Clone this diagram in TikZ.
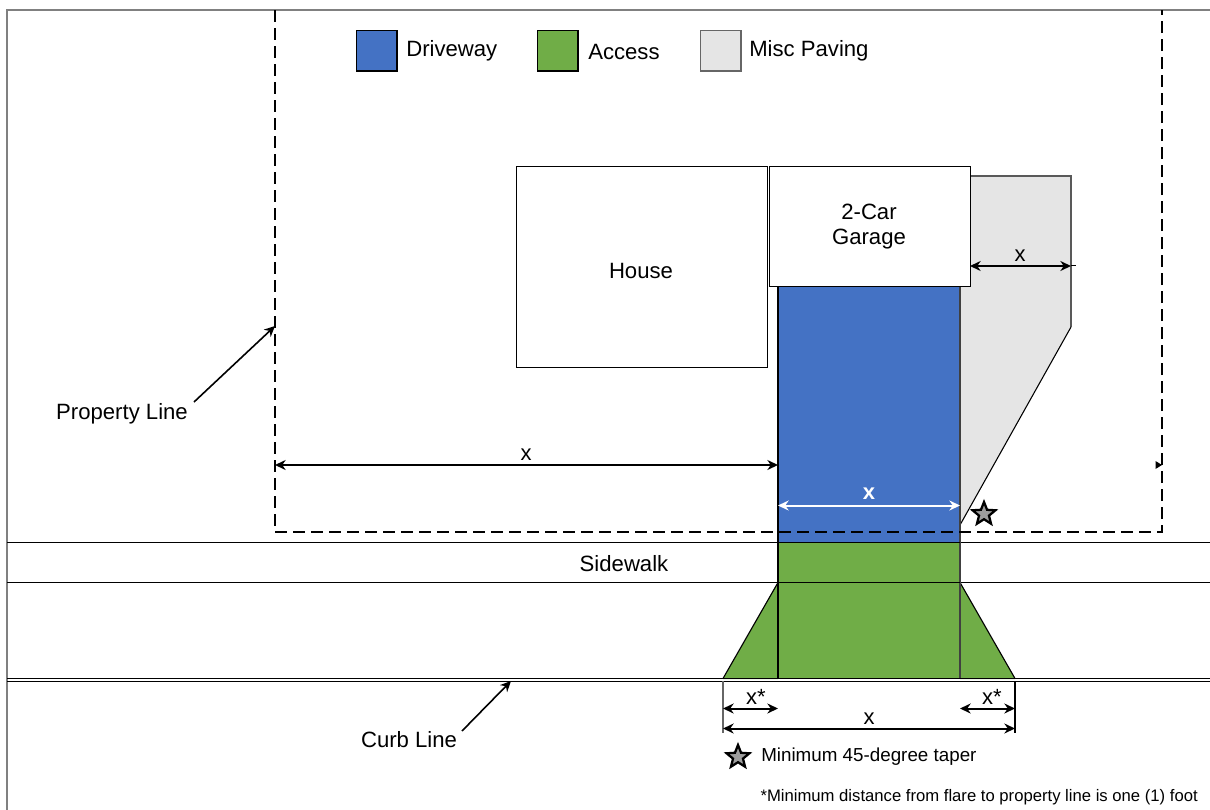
\documentclass[tikz,border=0pt]{standalone}
\usepackage{fontspec}
\setmainfont{Liberation Sans}
\usetikzlibrary{shapes.geometric,arrows.meta}
\definecolor{drive}{HTML}{4472C4}
\definecolor{access}{HTML}{70AD47}
\definecolor{misc}{HTML}{E5E5E5}
\definecolor{frameg}{HTML}{808080}
\tikzset{
  x=0.75pt,y=-0.75pt,
  txt/.style={inner sep=0pt,font=\fontsize{16.6}{18.75}\selectfont,text=black},
  smalltxt/.style={inner sep=0pt,font=\fontsize{14.1}{17}\selectfont,text=black},
  notetxt/.style={inner sep=0pt,font=\fontsize{12.5}{15}\selectfont,text=black},
  dimlabel/.style={inner sep=0pt,font=\fontsize{16.5}{18}\selectfont,text=black},
  thinline/.style={draw=black,line width=0.85pt},
  frameline/.style={draw=frameg,line width=1.6pt},
  propline/.style={draw=black,line width=1.6pt,dash pattern=on 9pt off 4.5pt},
  dimline/.style={draw=black,line width=1.5pt,{Stealth[length=8pt,width=7.5pt]}-{Stealth[length=8pt,width=7.5pt]}},
  callout/.style={draw=black,line width=1.2pt,-{Stealth[length=8pt,width=7.5pt]}},
  extline/.style={draw=black!60,line width=1pt},
  starmark/.style={star,star points=5,star point ratio=2.3,draw=black,line width=1.7pt,fill=black!38,inner sep=0pt,minimum size=18pt},
  legendbox/.style={draw=black,line width=1pt,inner sep=0pt,minimum size=30.5pt},
  building/.style={draw=black,line width=0.85pt,fill=white,inner sep=0pt}
}
\begin{document}
\begin{tikzpicture}
\useasboundingbox (0,0) rectangle (1210,810);
\fill[white] (0,0) rectangle (1210,810);
% frame and road lines
\draw[frameline] (7,810) -- (7,10) -- (1210,10);
\draw[thinline] (7,542.5) -- (1210,542.5);
\draw[thinline] (7,582.5) -- (1210,582.5);
\draw[thinline] (7,678.5) -- (1210,678.5);
\draw[thinline] (7,681.5) -- (1210,681.5);
% paving
\fill[misc] (960,176) -- (1071,176) -- (1071,327) -- (960,525) -- cycle;
\draw[draw=black!65,line width=1.1pt] (960,176) -- (1071,176) -- (1071,327);
\draw[draw=black,line width=0.8pt] (1071,327) -- (960,525);
\fill[drive] (778,286) rectangle (960,542.5);
\fill[access] (778,542.5) rectangle (960,679);
\fill[access] (778,582.5) -- (723,679) -- (778,679) -- cycle;
\fill[access] (960,582.5) -- (1015,679) -- (960,679) -- cycle;
\draw[thinline] (778,582.5) -- (723,678.5);
\draw[thinline] (960,582.5) -- (1015,678.5);
\draw[thinline] (778,286) -- (778,679);
\draw[draw=black!75,line width=1.1pt] (960,286) -- (960,679);
\draw[thinline] (778,542.5) -- (960,542.5);
\draw[thinline] (778,582.5) -- (960,582.5);
\draw[thinline] (723,678.5) -- (1015,678.5);
% buildings
\node[building,minimum width=188.5pt,minimum height=150.5pt,anchor=north west] (house) at (516,166) {};
\node[building,minimum width=151pt,minimum height=90pt,anchor=north west] (garage) at (768.5,166) {};
\node[txt] (houselabel) at (641,271) {House};
\node[txt,align=center] (garagelabel) at (869,227) {2-Car\\Garage};
% property line
\draw[propline] (275,10) -- (275,532) -- (1162,532) -- (1162,10);
% legend
\node[legendbox,fill=drive] (lgdrive) at (376.5,50.5) {};
\node[legendbox,fill=access] (lgaccess) at (557.5,50.5) {};
\node[legendbox,fill=misc,draw=black!60] (lgmisc) at (720.5,50.5) {};
\node[txt,anchor=west] (lgdrivet) at (406,50.5) {Driveway};
\node[txt,anchor=west] (lgaccesst) at (588,52) {Access};
\node[txt,anchor=west] (lgmisct) at (749,50.5) {Misc Paving};
% labels
\node[txt] (sidewalk) at (624,564) {Sidewalk};
\node[txt] (propertyl) at (122,414) {Property Line};
\node[txt] (curbl) at (409,739.5) {Curb Line};
% callouts
\coordinate (proptip) at (275,326);
\coordinate (curbtip) at (511,681);
\draw[callout] (194,402) -- (proptip);
\draw[callout] (462,731) -- (curbtip);
% dimensions
\coordinate (dl1) at (275,465);
\coordinate (dl2) at (778,465);
\draw[dimline] (dl1) -- (dl2);
\fill[black] (1155.5,461) -- (1162,465) -- (1155.5,469) -- cycle;
\node[dimlabel] (xa) at (526,455) {x};
\coordinate (dw1) at (778,505.5);
\coordinate (dw2) at (960,505.5);
\draw[dimline,draw=white,{Stealth[length=8pt,width=7.5pt,fill=white]}-{Stealth[length=8pt,width=7.5pt,fill=white]}] (dw1) -- (dw2);
\node[dimlabel,text=white,font=\fontsize{16.5}{18}\bfseries] (xb) at (869,494) {x};
\coordinate (dm1) at (970,266);
\coordinate (dm2) at (1071,266);
\draw[dimline] (dm1) -- (dm2);
\draw[draw=black,line width=0.6pt] (1071,265) -- (1076,265);
\node[dimlabel] (xc) at (1020,256) {x};
\coordinate (ea) at (723,681);
\coordinate (eb) at (723,733);
\coordinate (ec) at (1015,681);
\coordinate (ed) at (1015,733);
\draw[extline] (ea) -- (eb);
\draw[draw=black,line width=0.85pt] (ec) -- (ed);
\coordinate (f1) at (723,708.5);
\coordinate (f2) at (778,708.5);
\coordinate (f3) at (960,708.5);
\coordinate (f4) at (1015,708.5);
\coordinate (f5) at (723,728.5);
\coordinate (f6) at (1015,728.5);
\draw[dimline] (f1) -- (f2);
\draw[dimline] (f3) -- (f4);
\draw[dimline] (f5) -- (f6);
\node[dimlabel] (xd) at (756,697) {x*};
\node[dimlabel] (xe) at (992,697) {x*};
\node[dimlabel] (xf) at (869,719) {x};
% stars and notes
\node[starmark] (star1) at (984,514) {};
\node[starmark] (star2) at (738,757) {};
\node[smalltxt,anchor=west] (taper) at (761,757) {Minimum 45-degree taper};
\node[notetxt,anchor=east] (note) at (1198,797) {*Minimum distance from flare to property line is one (1) foot};
\end{tikzpicture}
\end{document}
